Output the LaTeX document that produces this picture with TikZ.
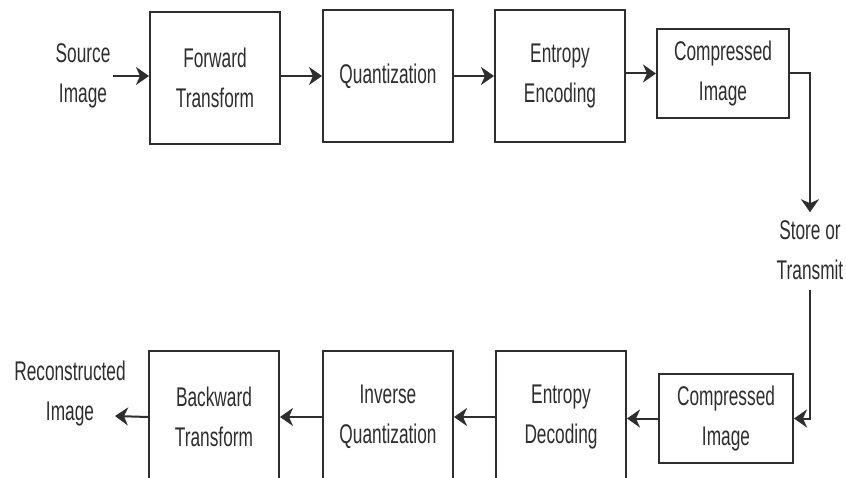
\documentclass[tikz,border=0pt]{standalone}
\usepackage{fontspec}
\setmainfont{Liberation Sans}[FakeStretch=0.64]
\usetikzlibrary{arrows.meta}
\definecolor{ink}{HTML}{2E2E2E}
\begin{document}
\begin{tikzpicture}[x=1pt,y=-1pt,
  every node/.style={font=\fontsize{27}{40}\selectfont, text=ink, align=center},
  box/.style={draw=ink, line width=2pt, fill=white, inner sep=0pt},
  lbl/.style={inner sep=2pt},
  arr/.style={draw=ink, line width=2pt, -{Stealth[length=13pt,width=18pt,inset=4pt]}}]
  \clip (0,0) rectangle (846,478);
  \fill[white] (0,0) rectangle (846,478);

  % encoder row
  \node[lbl] (src) at (83,76) {Source\\Image};
  \node[box, minimum width=130pt, minimum height=132pt] (ft) at (215,78) {Forward\\Transform};
  \node[box, minimum width=130pt, minimum height=132pt] (q)  at (388,76) {Quantization};
  \node[box, minimum width=130pt, minimum height=132pt] (ee) at (560,76) {Entropy\\Encoding};
  \node[box, minimum width=132pt, minimum height=89pt] (ci1) at (723,73.5) {Compressed\\Image};

  % channel
  \node[lbl] (st) at (810,250) {Store or\\Transmit};

  % decoder row
  \node[box, minimum width=134pt, minimum height=89pt] (ci2) at (726,418.5) {Compressed\\Image};
  \node[box, minimum width=130pt, minimum height=132pt] (ed) at (561,417) {Entropy\\Decoding};
  \node[box, minimum width=130pt, minimum height=132pt] (iq) at (388,417) {Inverse\\Quantization};
  \node[box, minimum width=130pt, minimum height=132pt] (bt) at (214,417) {Backward\\Transform};
  \node[lbl] (rec) at (70,394) {Reconstructed\\Image};
  \coordinate (recend) at (115,416);

  % connectors
  \draw[arr] (src.east) -- (ft.west |- src.east);
  \draw[arr] (ft.east |- q.west) -- (q.west);
  \draw[arr] (q.east) -- (ee.west);
  \draw[arr] (ee.east |- ci1.west) -- (ci1.west);
  \draw[arr] (ci1.east) -| ([yshift=6pt]st.north);
  \draw[arr] ([yshift=-8pt]st.south) |- (ci2.east);
  \draw[arr] (ci2.west) -- (ed.east |- ci2.west);
  \draw[arr] (ed.west) -- (iq.east);
  \draw[arr] (iq.west) -- (bt.east);
  \draw[arr] (bt.west) -- (recend);
\end{tikzpicture}
\end{document}
